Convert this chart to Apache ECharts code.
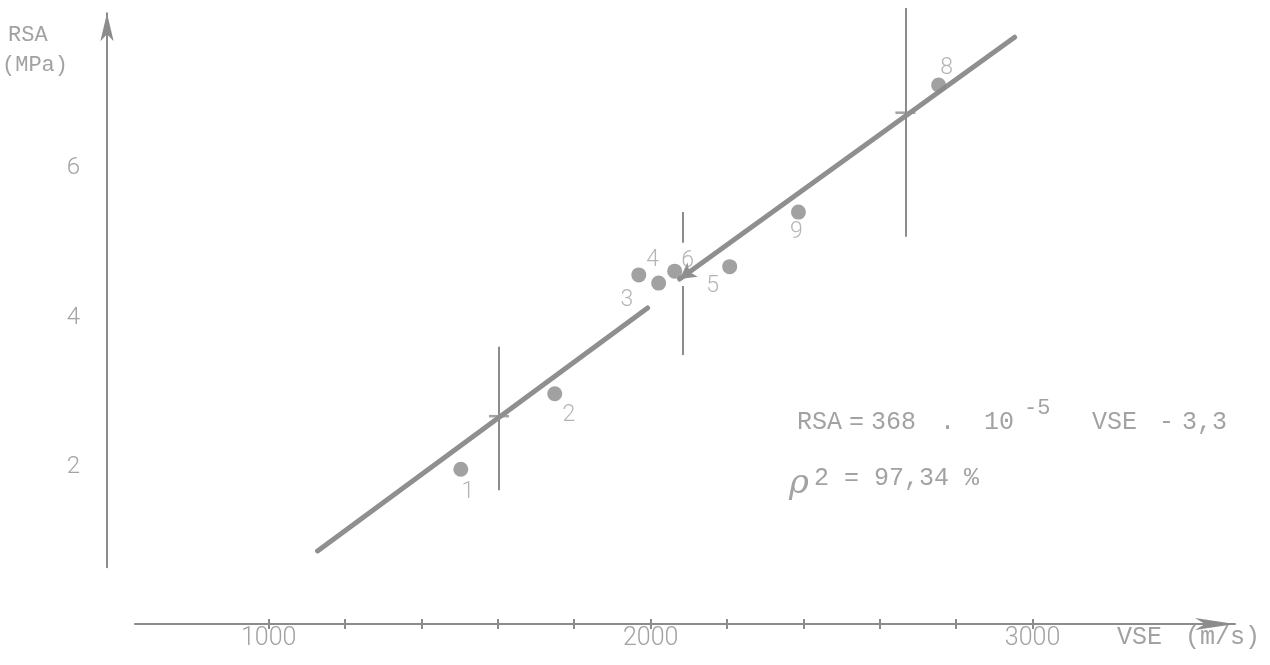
<!DOCTYPE html>
<html>
<head>
<meta charset="utf-8">
<script src="https://cdn.jsdelivr.net/npm/echarts@6/dist/echarts.min.js"></script>
<style>
  html, body { margin: 0; padding: 0; background: #ffffff; }
  #chart { width: 1270px; height: 665px; }
</style>
</head>
<body>
<div id="chart"></div>
<script>
// ---------------- data ----------------
const pointIds = ['1', '2', '3', '4', '6', '5', '9', '8'];
const pointVSE = [1503, 1749, 1969, 2021, 2063, 2207, 2387, 2754];
const pointRSA = [1.97, 2.98, 4.57, 4.46, 4.62, 4.68, 5.41, 7.11];

// regression line RSA = 368e-5 VSE - 3.3, drawn in two pieces (lower, upper with arrow)
const fitVSE = [1128, 1992, 2076, 2953];
const fitRSA = [0.877, 4.127, 4.515, 7.75];

// vertical range bars (middle one is interrupted around point 6)
const barVSE  = [1603, 2084, 2084, 2667];
const barLow  = [1.69, 3.50, 5.00, 5.08];
const barHigh = [3.61, 4.42, 5.41, 8.14];
const meanVSE = [1603, 2667];
const meanRSA = [2.68, 6.74];

const xTickValues  = [1000, 1200, 1400, 1600, 1800, 2000, 2200, 2400, 2600, 2800, 3000];
const xLabelValues = [1000, 2000, 3000];
const yLabelValues = [2, 4, 6];

// ---------------- styling ----------------
const INK = '#8c8c8c';
const TXT = '#a2a2a2';
const MONO = '"Liberation Mono", "DejaVu Sans Mono", monospace';
const SANS = 'Roboto, "Open Sans", sans-serif';
const labelOffsets = {
  '1': [7, 23], '2': [14, 22], '3': [-12, 25], '4': [-6, -23],
  '6': [13, -10], '5': [-17, 20], '9': [-2, 20], '8': [8, -17]
};

const chart = echarts.init(document.getElementById('chart'), null, { renderer: 'canvas' });

const scatterData = pointVSE.map((x, i) => ({
  name: pointIds[i],
  value: [x, pointRSA[i]],
  label: { offset: labelOffsets[pointIds[i]] }
}));

const barLines = barVSE.map((x, i) => [
  { coord: [x, barLow[i]] }, { coord: [x, barHigh[i]] }
]);

const option = {
  animation: false,
  backgroundColor: '#ffffff',
  grid: [
    { left: 135, right: 35, top: 3.55, bottom: 41.02, containLabel: false },
    { left: 107, width: 10, top: 13.3, bottom: 97.8, containLabel: false }
  ],
  xAxis: [
    {
      gridIndex: 0, type: 'value', min: 650, max: 3530,
      axisLine: { show: true, onZero: false, lineStyle: { color: INK, width: 2 },
                  symbol: ['none', 'arrow'], symbolSize: [9, 40] },
      axisTick: { show: true, customValues: xTickValues, length: 5, lineStyle: { color: INK, width: 2 } },
      axisLabel: { show: true, customValues: xLabelValues, margin: 2,
                   formatter: v => String(v),
                   color: TXT, fontFamily: SANS, fontWeight: 300, fontSize: 25 },
      splitLine: { show: false }
    },
    {
      gridIndex: 0, type: 'value', min: 650, max: 3530, position: 'bottom',
      axisLine: { show: false, onZero: false },
      axisTick: { show: true, inside: true, customValues: xTickValues, length: 5, lineStyle: { color: INK, width: 2 } },
      axisLabel: { show: false },
      splitLine: { show: false }
    },
    {
      gridIndex: 1, type: 'value', show: false, min: 0, max: 1
    }
  ],
  yAxis: [
    {
      gridIndex: 0, type: 'value', show: false, min: -0.1, max: 8.2
    },
    {
      gridIndex: 1, type: 'value', min: 0.66, max: 8.07,
      axisLine: { show: true, onZero: false, lineStyle: { color: INK, width: 2 },
                  symbol: ['none', 'arrow'], symbolSize: [10, 28] },
      axisTick: { show: false },
      axisLabel: { show: true, customValues: yLabelValues, margin: 27,
                   color: TXT, fontFamily: SANS, fontWeight: 300, fontSize: 24 },
      splitLine: { show: false }
    }
  ],
  series: [
    {
      name: 'bars', type: 'scatter', xAxisIndex: 0, yAxisIndex: 0,
      data: [], silent: true, z: 2,
      markLine: {
        silent: true, symbol: ['none', 'none'],
        label: { show: false },
        lineStyle: { color: INK, width: 2, type: 'solid' },
        data: barLines
      }
    },
    {
      name: 'means', type: 'scatter', xAxisIndex: 0, yAxisIndex: 0,
      symbol: 'rect', symbolSize: [20, 2.5], silent: true, z: 3,
      itemStyle: { color: INK },
      data: meanVSE.map((x, i) => [x, meanRSA[i]])
    },
    {
      name: 'fit', type: 'scatter', xAxisIndex: 0, yAxisIndex: 0,
      data: [], silent: true, z: 4,
      markLine: {
        silent: true,
        label: { show: false },
        lineStyle: { color: '#8f8f8f', width: 5, type: 'solid', cap: 'round' },
        data: [
          [ { coord: [fitVSE[0], fitRSA[0]], symbol: 'none' },
            { coord: [fitVSE[1], fitRSA[1]], symbol: 'none' } ],
          [ { coord: [fitVSE[2], fitRSA[2]], symbol: 'arrow', symbolSize: [13, 16] },
            { coord: [fitVSE[3], fitRSA[3]], symbol: 'none' } ]
        ]
      }
    },
    {
      name: 'points', type: 'scatter', xAxisIndex: 0, yAxisIndex: 0,
      symbol: 'circle', symbolSize: 15, z: 6,
      itemStyle: { color: '#8a8a8a' },
      label: { show: true, position: 'inside', formatter: '{b}',
               color: TXT, fontFamily: SANS, fontWeight: 300, fontSize: 23 },
      data: scatterData
    }
  ],
  graphic: [
    { type: 'text', x: 8, y: 35, style: { text: 'RSA', font: '22px ' + MONO, fill: TXT, verticalAlign: 'middle' } },
    { type: 'text', x: 2, y: 65, style: { text: '(MPa)', font: '22px ' + MONO, fill: TXT, verticalAlign: 'middle' } },
    { type: 'text', x: 1117, y: 637, style: { text: 'VSE', font: '25px ' + MONO, fill: TXT, verticalAlign: 'middle' } },
    { type: 'text', x: 1185, y: 637, style: { text: '(m/s)', font: '25px ' + MONO, fill: TXT, verticalAlign: 'middle' } },

    { type: 'text', x: 797, y: 422, style: { text: 'RSA', font: '25px ' + MONO, fill: TXT, verticalAlign: 'middle' } },
    { type: 'text', x: 849, y: 422, style: { text: '=', font: '25px ' + MONO, fill: TXT, verticalAlign: 'middle' } },
    { type: 'text', x: 871, y: 422, style: { text: '368', font: '25px ' + MONO, fill: TXT, verticalAlign: 'middle' } },
    { type: 'text', x: 940, y: 422, style: { text: '.', font: '25px ' + MONO, fill: TXT, verticalAlign: 'middle' } },
    { type: 'text', x: 984, y: 422, style: { text: '10', font: '25px ' + MONO, fill: TXT, verticalAlign: 'middle' } },
    { type: 'text', x: 1024, y: 408, style: { text: '-5', font: '22px ' + MONO, fill: TXT, verticalAlign: 'middle' } },
    { type: 'text', x: 1092, y: 422, style: { text: 'VSE', font: '25px ' + MONO, fill: TXT, verticalAlign: 'middle' } },
    { type: 'text', x: 1159, y: 422, style: { text: '-', font: '25px ' + MONO, fill: TXT, verticalAlign: 'middle' } },
    { type: 'text', x: 1182, y: 422, style: { text: '3,3', font: '25px ' + MONO, fill: TXT, verticalAlign: 'middle' } },

    { type: 'text', x: 789, y: 484, style: { text: 'ρ', font: 'italic 34px "DejaVu Serif", serif', fill: TXT, verticalAlign: 'middle' } },
    { type: 'text', x: 814, y: 478, style: { text: '2 = 97,34 %', font: '25px ' + MONO, fill: TXT, verticalAlign: 'middle' } }
  ]
};

chart.setOption(option);
</script>
</body>
</html>
